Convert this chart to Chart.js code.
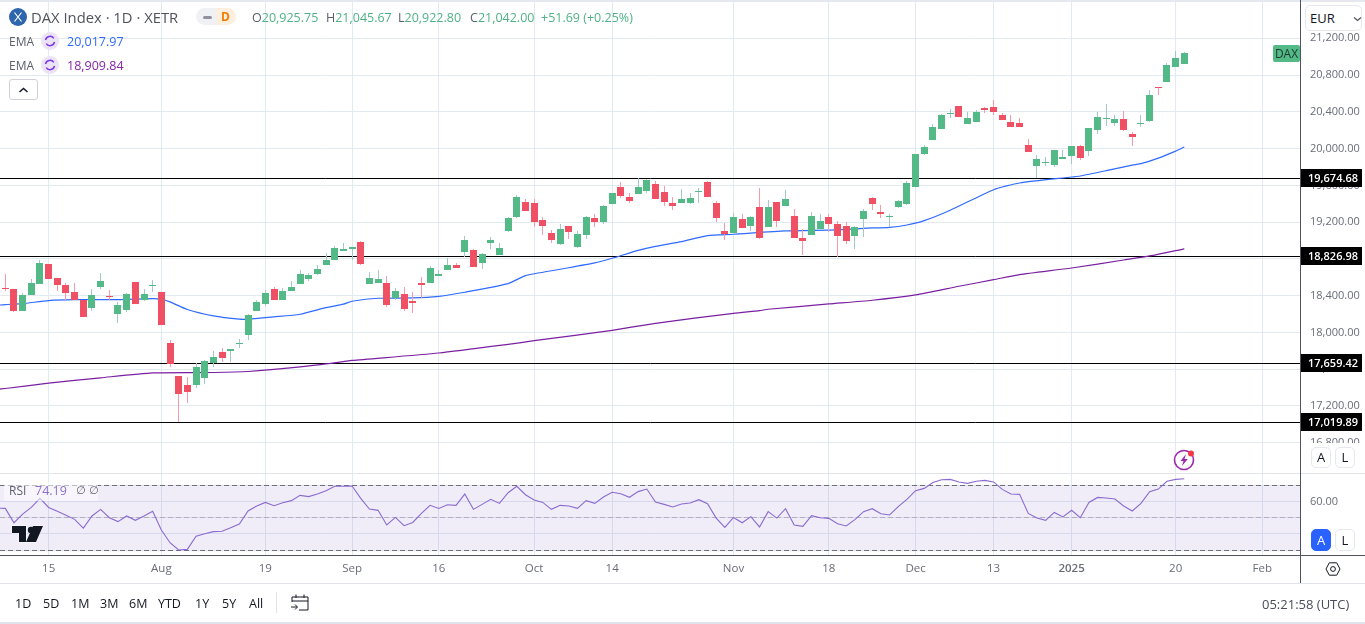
<!DOCTYPE html>
<html>
<head>
<meta charset="utf-8">
<title>DAX Index</title>
<script src="https://cdn.jsdelivr.net/npm/chart.js@4/dist/chart.umd.min.js"></script>
<style>
  html, body { margin: 0; padding: 0; background: #fff; }
  body { position: relative; width: 1365px; height: 624px; overflow: hidden; font-family: "Open Sans", sans-serif; color: #4a4d57; }
  canvas { position: absolute; left: 0; }
  .t { position: absolute; white-space: nowrap; line-height: 18px; font-size: 12.5px; }
  .line { position: absolute; }
  .btn { position: absolute; box-sizing: border-box; border: 1px solid #e6e8f0; border-radius: 5px; background: #fff; text-align: center; font-size: 13px; color: #131722; }
  .range { position: absolute; top: 595px; line-height: 18px; font-size: 12.5px; color: #131722; }
</style>
</head>
<body>
<canvas id="priceChart" width="1365" height="473" style="top:0"></canvas>
<canvas id="rsiChart" width="1365" height="110" style="top:473px"></canvas>

<!-- frame -->
<div class="line" style="left:0;top:0;width:1365px;height:2px;background:#e6e8f0"></div>
<div class="line" style="left:0;top:473px;width:1365px;height:1px;background:#e0e3eb"></div>
<div class="line" style="left:0;top:555px;width:1365px;height:1px;background:#50535e"></div>
<div class="line" style="left:0;top:583px;width:1365px;height:1px;background:#e0e3eb"></div>
<div class="line" style="left:0;top:622px;width:1365px;height:2px;background:#e0e3eb"></div>
<div class="line" style="left:1300px;top:0;width:1px;height:583px;background:#50535e"></div>

<!-- header -->
<svg style="position:absolute;left:9px;top:8px" width="18" height="18" viewBox="0 0 18 18">
  <circle cx="9" cy="9" r="9" fill="#2e66ad"/>
  <path d="M5.5 4.5 L12.5 13.5 M12.5 4.5 L5.5 13.5" stroke="#fff" stroke-width="1.2"/>
</svg>
<div class="t" style="left:31px;top:8px;font-size:14.8px;color:#50535e">DAX Index · 1D · XETR</div>
<div style="position:absolute;left:196px;top:8px;width:20px;height:17px;background:#f0f1f5;border-radius:9px 0 0 9px"></div>
<div style="position:absolute;left:216px;top:8px;width:20px;height:17px;background:#fdeedd;border-radius:0 9px 9px 0"></div>
<div style="position:absolute;left:203px;top:16px;width:9px;height:3px;background:#8f929c;border-radius:2px"></div>
<div class="t" style="left:221px;top:8px;font-weight:700;font-size:12px;color:#f57c00">D</div>

<div class="t" style="left:252px;top:9px;color:#5d606b">O<span style="color:#4fb286">20,925.75</span></div>
<div class="t" style="left:326px;top:9px;color:#5d606b">H<span style="color:#4fb286">21,045.67</span></div>
<div class="t" style="left:398px;top:9px;color:#5d606b">L<span style="color:#4fb286">20,922.80</span></div>
<div class="t" style="left:470px;top:9px;color:#5d606b">C<span style="color:#4fb286">21,042.00</span></div>
<div class="t" style="left:541px;top:9px;color:#4fb286">+51.69 (+0.25%)</div>

<div class="t" style="left:9px;top:33px;font-size:12px;color:#5d606b">EMA</div>
<svg style="position:absolute;left:41px;top:32px" width="18" height="18" viewBox="0 0 18 18">
  <circle cx="9" cy="9" r="9" fill="#ebe3f8"/>
  <path d="M4.5 8 A4.6 4.6 0 0 1 12.8 6.4 M13.5 10 A4.6 4.6 0 0 1 5.2 11.6" fill="none" stroke="#7c3aed" stroke-width="1.5"/>
</svg>
<div class="t" style="left:67px;top:33px;color:#2f6bff">20,017.97</div>
<div class="t" style="left:9px;top:57px;font-size:12px;color:#5d606b">EMA</div>
<svg style="position:absolute;left:41px;top:56px" width="18" height="18" viewBox="0 0 18 18">
  <circle cx="9" cy="9" r="9" fill="#ebe3f8"/>
  <path d="M4.5 8 A4.6 4.6 0 0 1 12.8 6.4 M13.5 10 A4.6 4.6 0 0 1 5.2 11.6" fill="none" stroke="#7c3aed" stroke-width="1.5"/>
</svg>
<div class="t" style="left:67px;top:57px;color:#8527a8">18,909.84</div>
<div class="btn" style="left:9px;top:79px;width:29px;height:21px;border-color:#cfd2da;border-radius:3px">
  <svg width="11" height="8" viewBox="0 0 11 8" style="position:absolute;left:8px;top:6px"><path d="M1.5 6 L5.5 2.5 L9.5 6" fill="none" stroke="#131722" stroke-width="1.5"/></svg>
</div>

<!-- right column -->
<div style="position:absolute;left:1301px;top:2px;width:64px;height:31px;background:#fff"></div>
<div class="btn" style="left:1305px;top:5px;width:57px;height:26px;line-height:24px;text-align:left;padding-left:4px">EUR
  <svg width="9" height="6" viewBox="0 0 9 6" style="position:absolute;left:47px;top:10px"><path d="M1 1.5 L4.5 4.5 L8 1.5" fill="none" stroke="#50535e" stroke-width="1.2"/></svg>
</div>
<div style="position:absolute;left:1273px;top:45px;width:27px;height:17px;background:#53b987;border-radius:2px;text-align:center;font-size:12px;line-height:17px;color:#1c3a2c">DAX</div>
<div style="position:absolute;left:1301px;top:443px;width:64px;height:30px;background:#fff"></div>
<div class="btn" style="left:1311px;top:447px;width:20px;height:21px;line-height:19px">A</div>
<div class="btn" style="left:1335px;top:447px;width:20px;height:21px;line-height:19px">L</div>
<div class="btn" style="left:1311px;top:529px;width:20px;height:22px;line-height:20px;background:#2962ff;border-color:#2962ff;color:#fff">A</div>
<div class="btn" style="left:1335px;top:529px;width:20px;height:22px;line-height:20px">L</div>
<svg style="position:absolute;left:1325px;top:561px" width="16" height="16" viewBox="0 0 16 16">
  <path d="M4.3 1.8 H11.7 L15 8 L11.7 14.2 H4.3 L1 8 Z" fill="none" stroke="#131722" stroke-width="1"/>
  <circle cx="8" cy="8" r="2.4" fill="none" stroke="#131722" stroke-width="1"/>
</svg>

<!-- rsi pane extras -->
<div style="position:absolute;left:4px;top:482px;width:94px;height:19px;background:rgba(255,255,255,.55)"></div>
<div class="t" style="left:9px;top:482px;font-size:12px;color:#5d606b">RSI</div>
<div class="t" style="left:35px;top:482px;color:#8d6fd1">74.19</div>
<div class="t" style="left:76px;top:482px;color:#5d606b;font-family:'DejaVu Sans';font-size:11px">∅ ∅</div>
<svg style="position:absolute;left:11px;top:525px" width="33" height="18" viewBox="0 0 33 18">
  <path d="M1 1 H15 V17 H8 V8 H1 Z M22 1 H32 L25 17 H15 Z" fill="#131722" stroke="#fff" stroke-width="1" paint-order="stroke"/>
  <circle cx="20" cy="5" r="3.2" fill="#131722"/>
</svg>
<svg style="position:absolute;left:1173px;top:449px" width="24" height="22" viewBox="0 0 24 22">
  <circle cx="11" cy="11" r="9.5" fill="#fff" stroke="#9c27b0" stroke-width="1.6"/>
  <path d="M13 5 L7.5 12 H10.5 L9 17 L14.8 10 H11.5 Z" fill="#9c27b0"/>
  <circle cx="18" cy="4.5" r="3" fill="#f23645"/>
</svg>

<!-- bottom bar -->
<div class="range" style="left:15px">1D</div>
<div class="range" style="left:43px">5D</div>
<div class="range" style="left:71px">1M</div>
<div class="range" style="left:100px">3M</div>
<div class="range" style="left:129px">6M</div>
<div class="range" style="left:158px">YTD</div>
<div class="range" style="left:195px">1Y</div>
<div class="range" style="left:222px">5Y</div>
<div class="range" style="left:249px">All</div>
<div class="line" style="left:276px;top:592px;width:1px;height:21px;background:#e0e3eb"></div>
<svg style="position:absolute;left:290px;top:593px" width="20" height="19" viewBox="0 0 20 19">
  <path d="M2 9 V4 H18 V17 H9 M2 8 H18 M6 1.5 V5 M14 1.5 V5 M1 14 H7 M5 11.5 L7.5 14 L5 16.5" fill="none" stroke="#131722" stroke-width="1"/>
</svg>
<div class="t" style="left:1262px;top:595px;font-size:13px;color:#4a4d57">05:21:58 (UTC)</div>

<script>
// ------------ candles ------------
const opens = [
  18481,18470,18231,18404,18524,18741,18589,18513,18437,18350,
  18263,18491,18394,18198,18241,18546,18350,18502,18437,17883,
  17524,17426,17426,17502,17665,17785,17796,17872,17970,18231,
  18307,18470,18350,18448,18524,18578,18633,18731,18785,18883,
  18904,18980,18524,18535,18535,18372,18415,18339,18535,18535,
  18611,18676,18730,18872,18893,18752,18970,18839,19100,19252,
  19415,19404,19220,19078,18959,19154,18926,19056,19241,19198,
  19393,19578,19470,19502,19535,19611,19524,19404,19405,19405,
  19524,19633,19405,19100,19079,19231,19155,19361,19144,19416,
  19372,19263,19024,19057,19122,19253,19177,19155,19046,19231,
  19459,19307,19253,19361,19394,19579,19937,20090,20209,20372,
  20459,20263,20285,20437,20448,20361,20285,20274,20035,19807,
  19839,19818,19883,19915,20024,19970,20198,20318,20274,20318,
  20155,20263,20296,20669,20720,20883,20925.75
];
const highs = [
  18633,18470,18426,18578,18785,18741,18589,18535,18535,18350,
  18470,18644,18459,18328,18426,18546,18470,18568,18437,17915,
  17524,17513,17665,17698,17796,17828,17818,17926,18198,18350,
  18459,18491,18481,18557,18676,18644,18731,18861,18937,18970,
  18926,18991,18654,18676,18611,18480,18491,18437,18600,18720,
  18676,18806,18752,19046,18904,18861,19035,18970,19252,19491,
  19448,19448,19252,19111,19176,19154,19100,19263,19285,19383,
  19513,19633,19513,19676,19665,19643,19589,19470,19557,19513,
  19568,19644,19427,19187,19296,19285,19263,19568,19437,19416,
  19546,19340,19122,19307,19285,19285,19209,19198,19155,19340,
  19470,19383,19285,19437,19644,19937,20035,20263,20372,20426,
  20459,20394,20416,20448,20524,20383,20361,20329,20100,19926,
  19905,19981,19981,20024,20035,20220,20394,20481,20361,20405,
  20176,20361,20633,20669,20926,21057,21045.67
];
const lows = [
  18452,18220,18231,18404,18524,18578,18448,18357,18350,18165,
  18231,18470,18350,18100,18220,18307,18339,18437,18078,17622,
  17020,17231,17394,17437,17622,17676,17676,17828,17915,18231,
  18285,18350,18350,18448,18524,18557,18622,18731,18785,18883,
  18785,18730,18524,18535,18274,18350,18230,18209,18372,18535,
  18611,18676,18698,18817,18709,18687,18904,18839,19089,19241,
  19317,19143,19056,18970,18948,19013,18915,19013,19143,19176,
  19393,19459,19404,19502,19513,19448,19372,19328,19405,19394,
  19405,19470,19198,19003,19079,19133,19100,19013,19144,19144,
  19372,19024,18840,19057,19122,19090,18818,18959,18905,19035,
  19329,19242,19144,19350,19383,19579,19926,20090,20209,20329,
  20340,20263,20285,20383,20361,20307,20231,20231,19959,19676,
  19807,19796,19883,19829,19872,19915,20155,20242,20242,20187,
  20024,20231,20285,20578,20720,20883,20922.80
];
const closes = [
  18470,18231,18404,18535,18752,18578,18513,18426,18350,18165,
  18404,18557,18383,18296,18415,18307,18415,18513,18078,17655,
  17328,17350,17622,17687,17731,17720,17818,17883,18187,18328,
  18426,18350,18448,18491,18633,18622,18687,18785,18915,18904,
  18926,18741,18589,18578,18296,18448,18252,18317,18513,18698,
  18633,18730,18698,19002,18709,18850,19002,18915,19241,19470,
  19317,19198,19154,19002,19122,19089,19067,19252,19198,19372,
  19513,19480,19426,19578,19654,19448,19415,19372,19448,19459,
  19535,19470,19242,19068,19253,19133,19253,19024,19361,19209,
  19448,19024,18992,19263,19209,19177,19046,18992,19144,19318,
  19394,19285,19263,19427,19622,19937,20013,20231,20361,20383,
  20340,20329,20394,20416,20394,20307,20231,20231,19959,19883,
  19850,19981,19905,20024,19894,20220,20339,20329,20318,20198,
  20122,20274,20578,20658,20905,20991,21042.00
];

// EMAs were read at these bars only; bar -1 runs them off the left edge
const emaFastBars = [-1,0,2,5,8,13,17,18,19,21,24,27,28,31,34,37,39,40,43,47,50,53,58,60,64,68,70,73,75,78,81,84,90,96,99,102,104,106,109,114,117,123,124,127,130,131,133,135,136];
const emaFast = [18295,18303,18314,18347,18357,18357,18368,18361,18332,18249,18180,18144,18144,18169,18198,18270,18307,18339,18372,18375,18393,18437,18531,18618,18687,18756,18807,18893,18937,18988,19053,19068,19104,19115,19133,19144,19169,19216,19329,19553,19626,19691,19702,19760,19821,19836,19897,19973,20017.97];
const emaSlowBars = [-1,0,5,11,17,24,28,34,39,40,50,58,61,70,75,84,87,88,95,100,105,110,114,117,123,129,132,136];
const emaSlow = [17380,17390,17448,17506,17560,17564,17575,17625,17682,17695,17776,17870,17910,18023,18099,18208,18237,18252,18310,18350,18408,18502,18574,18629,18701,18788,18832,18909.84];

const rsiLeftEdge = 56.0;
const rsiValues = [
  55.8,46.9,52.3,56.4,62.0,56.4,54.0,51.5,49.0,43.6,
  51.1,55.2,50.0,47.6,51.1,48.4,51.1,54.0,42.4,34.5,
  30.0,30.4,38.5,40.1,41.4,41.6,43.8,46.1,54.2,57.3,
  59.5,57.5,59.3,60.6,63.9,63.1,64.7,66.8,69.5,69.5,
  69.7,62.0,55.4,54.6,45.5,50.2,45.1,47.1,52.7,57.7,
  55.8,58.1,57.7,64.7,55.2,58.3,61.4,58.9,65.5,69.5,
  64.3,61.0,59.5,55.2,57.7,57.3,55.8,60.6,58.9,62.9,
  65.8,64.9,62.7,66.2,67.8,59.8,58.3,56.7,58.5,59.1,
  61.2,58.7,49.8,44.0,50.2,46.9,50.7,44.3,53.8,49.8,
  55.6,45.5,44.7,51.3,50.0,49.6,46.3,44.9,48.8,53.8,
  55.6,52.5,51.7,56.9,61.4,66.8,68.2,71.9,73.6,73.8,
  72.2,71.3,72.6,73.2,72.2,67.6,64.7,64.5,52.7,49.8,
  48.4,53.3,50.5,54.6,50.0,59.5,62.6,62.2,61.6,57.3,
  54.2,58.9,66.2,67.8,72.6,73.8,74.19
];

const levels = [19674.68, 18826.98, 17659.42, 17019.89];
const priceTicks = [16800,17200,17600,18000,18400,18800,19200,19600,20000,20400,20800,21200];
const timeBars = [5,18,30,40,50,61,70,84,95,105,114,123,135,145];
const timeLabels = ["15","Aug","19","Sep","16","Oct","14","Nov","18","Dec","13","2025","20","Feb"];
const rsiTicks = [30,40,50,60,70];
const rsiLevels = [70,50,30];

// ------------ look ------------
const green = "#53b987", red = "#ef5064";
const greenWick = "#a3c9c6", redWick = "#f29cab";
const gridColor = "#e2eaf1";
const uiFont = '"Open Sans", sans-serif';
const xMin = -0.611, xMax = 149.46;

const up = closes.map((c, i) => c >= opens[i]);
const pts = (xs, ys) => xs.map((x, i) => ({ x, y: ys[i] }));
const span = y => [{ x: xMin, y }, { x: xMax, y }];

// keeps bars and flat lines on whole pixels so they stay crisp
const snapPlugin = {
  id: "snap",
  afterDatasetsUpdate(chart) {
    chart.data.datasets.forEach((ds, i) => {
      const els = chart.getDatasetMeta(i).data;
      if (ds.type === "bar") {
        els.forEach(el => {
          el.x = Math.floor(el.x) + 0.5;
          const top = Math.round(Math.min(el.y, el.base));
          let bottom = Math.round(Math.max(el.y, el.base));
          if (bottom === top) bottom = top + 1;
          el.y = top;
          el.base = bottom;
        });
      } else if (ds.snapY) {
        els.forEach(el => { el.y = Math.floor(el.y) + 0.5; });
      }
    });
  }
};

// black price tags on the axis
const levelTags = {
  id: "levelTags",
  afterDraw(chart) {
    const { ctx, scales } = chart;
    ctx.save();
    ctx.textAlign = "center";
    ctx.textBaseline = "middle";
    ctx.font = "600 11px " + uiFont;
    levels.forEach(v => {
      const y = Math.floor(scales.y.getPixelForValue(v));
      ctx.fillStyle = "#000";
      ctx.fillRect(1301, y - 9, 61, 18);
      ctx.fillStyle = "#fff";
      ctx.fillText(v.toLocaleString("en-US", { minimumFractionDigits: 2 }), 1333, y + 0.5);
    });
    ctx.restore();
  }
};

const xAxis = {
  type: "linear",
  min: xMin,
  max: xMax,
  offset: false,
  grid: { color: gridColor, offset: false, drawTicks: false },
  border: { display: false },
  afterBuildTicks: axis => { axis.ticks = timeBars.map(value => ({ value })); }
};

// chart.js reserves room for half a label at each end of an axis; this pane runs edge to edge
const fitY = axis => { axis.width = 64; axis.paddingTop = 0; axis.paddingBottom = 0; };

// ------------ price pane ------------
new Chart(document.getElementById("priceChart"), {
  type: "bar",
  data: {
    datasets: [
      ...levels.map(v => ({
        type: "line", data: span(v), borderColor: "#000", borderWidth: 1,
        pointRadius: 0, order: 6, snapY: true
      })),
      { type: "line", data: pts(emaSlowBars, emaSlow), borderColor: "#7b1fa2", borderWidth: 1.2, pointRadius: 0, tension: 0.2, order: 5 },
      { type: "line", data: pts(emaFastBars, emaFast), borderColor: "#2f6bff", borderWidth: 1.2, pointRadius: 0, tension: 0.2, order: 4 },
      {
        type: "bar", grouped: false, barThickness: 1, order: 3, inflateAmount: 0,
        data: lows.map((l, i) => ({ x: i, y: [l, highs[i]] })),
        backgroundColor: up.map(u => u ? greenWick : redWick)
      },
      {
        type: "bar", grouped: false, barThickness: 7, order: 2, inflateAmount: 0,
        data: opens.map((o, i) => ({ x: i, y: [o, closes[i]] })),
        backgroundColor: up.map(u => u ? green : red)
      }
    ]
  },
  plugins: [snapPlugin, levelTags],
  options: {
    responsive: false,
    animation: false,
    events: [],
    layout: { padding: 0 },
    plugins: { legend: { display: false }, tooltip: { enabled: false } },
    scales: {
      x: { ...xAxis, ticks: { display: false }, afterFit: axis => { axis.height = 0; axis.paddingLeft = 0; axis.paddingRight = 0; } },
      y: {
        position: "right",
        min: 16470.5,
        max: 21616.8,
        grid: { color: gridColor, drawTicks: false },
        border: { display: false },
        afterBuildTicks: axis => { axis.ticks = priceTicks.map(value => ({ value })); },
        afterFit: fitY,
        ticks: {
          padding: 9,
          color: "#6a6d78",
          font: { family: uiFont, size: 11 },
          callback: v => v.toLocaleString("en-US", { minimumFractionDigits: 2 })
        }
      }
    }
  }
});

// ------------ RSI pane ------------
new Chart(document.getElementById("rsiChart"), {
  type: "line",
  data: {
    datasets: [
      {
        data: [{ x: -1, y: rsiLeftEdge }, ...rsiValues.map((y, x) => ({ x, y }))],
        borderColor: "#8a6bd0", borderWidth: 1.1, pointRadius: 0, tension: 0, order: 1
      },
      ...rsiLevels.map(v => ({
        data: span(v), borderColor: v === 50 ? "#b3adc0" : "#6f6d78", borderWidth: 1, borderDash: [5, 3],
        pointRadius: 0, order: 2, snapY: true
      })),
      { data: span(70), borderWidth: 0, pointRadius: 0, fill: { value: 30 }, backgroundColor: "rgba(126,87,194,0.115)", order: 3 }
    ]
  },
  plugins: [snapPlugin],
  options: {
    responsive: false,
    animation: false,
    events: [],
    layout: { padding: 0 },
    plugins: { legend: { display: false }, tooltip: { enabled: false } },
    scales: {
      x: {
        ...xAxis,
        afterFit: axis => { axis.height = 28; axis.paddingLeft = 0; axis.paddingRight = 0; },
        ticks: {
          autoSkip: false,
          maxRotation: 0,
          padding: 7,
          color: "#6a6d78",
          font: ctx => ({ family: uiFont, size: 11.5, weight: ctx.tick && ctx.tick.label === "2025" ? "600" : "400" }),
          callback: v => timeLabels[timeBars.indexOf(v)] || ""
        }
      },
      y: {
        position: "right",
        min: 26.9,
        max: 77.75,
        grid: { color: gridColor, drawTicks: false },
        border: { display: false },
        afterBuildTicks: axis => { axis.ticks = rsiTicks.map(value => ({ value })); },
        afterFit: fitY,
        ticks: {
          padding: 9,
          color: "#6a6d78",
          font: { family: uiFont, size: 11 },
          callback: v => v === 60 ? "60.00" : ""
        }
      }
    }
  }
});
</script>
</body>
</html>
